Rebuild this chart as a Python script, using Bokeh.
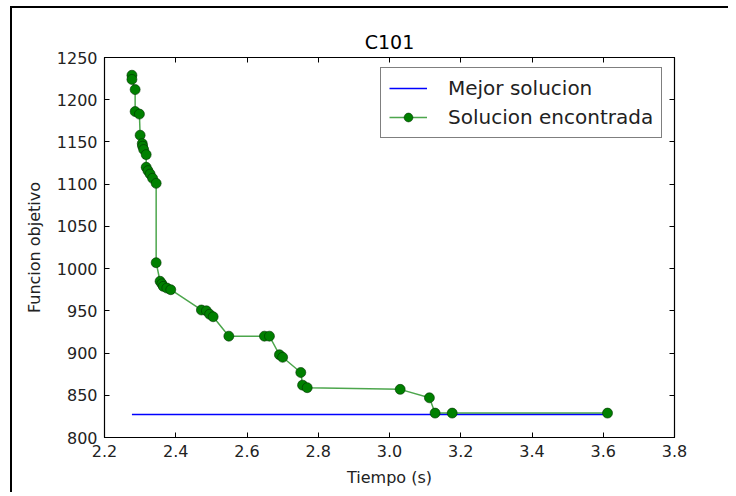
from bokeh.plotting import figure
from bokeh.models import (Range1d, LinearAxis, FixedTicker, CustomJSTickFormatter,
                          Legend, LegendItem, PrintfTickFormatter)
from bokeh.embed import file_html
from bokeh.resources import INLINE

# ---- data ----
tiempo = [2.277, 2.277, 2.286, 2.286, 2.298, 2.300, 2.306, 2.307, 2.310, 2.317,
          2.317, 2.322, 2.328, 2.335, 2.345, 2.345, 2.356, 2.361, 2.365, 2.375,
          2.386, 2.472, 2.486, 2.495, 2.505, 2.549, 2.649, 2.663, 2.691, 2.700,
          2.751, 2.756, 2.769, 3.030, 3.112, 3.128, 3.176, 3.612]
funcion = [1229, 1224, 1212, 1186, 1183, 1158, 1148, 1145, 1141, 1135,
           1120, 1116, 1112, 1107, 1101, 1007, 985, 982, 979, 977,
           975, 951, 950, 946, 943, 920, 920, 920, 898, 895,
           877, 862, 859, 857, 847, 828.9, 828.9, 828.9]
mejor_valor = 827.3
mejor_x = [tiempo[0], tiempo[-1]]
mejor_y = [mejor_valor, mejor_valor]
x_ticks = [2.2, 2.4, 2.6, 2.8, 3.0, 3.2, 3.4, 3.6, 3.8]
y_ticks = [800, 850, 900, 950, 1000, 1050, 1100, 1150, 1200, 1250]

FONT = "DejaVu Sans"

p = figure(width=718, height=486, output_backend="svg", toolbar_location=None,
           x_range=Range1d(2.2, 3.8), y_range=Range1d(800, 1250),
           min_border_left=92, min_border_right=56, min_border_top=49,
           min_border_bottom=57, title="C101")
p.margin = (6, 0, 0, 10)
p.styles = {"border-left": "2px solid black", "border-top": "2px solid black"}

p.title.align = "center"
p.title.text_font = FONT
p.title.text_font_size = "19px"
p.title.text_font_style = "normal"
p.title.text_color = "black"
p.title.standoff = 10

p.xgrid.visible = False
p.ygrid.visible = False
p.outline_line_color = "black"
p.outline_line_width = 1.2

for ax in p.xaxis + p.yaxis:
    ax.major_tick_in = 5
    ax.major_tick_out = 0
    ax.minor_tick_line_color = None
    ax.major_label_text_font = FONT
    ax.major_label_text_font_size = "16px"
    ax.major_label_text_color = "#222222"
    ax.axis_label_text_font = FONT
    ax.axis_label_text_font_size = "16px"
    ax.axis_label_text_font_style = "normal"
    ax.axis_label_text_color = "#222222"
    ax.axis_line_color = "black"
    ax.major_label_standoff = 7

p.xaxis.ticker = FixedTicker(ticks=x_ticks)
p.xaxis.formatter = PrintfTickFormatter(format="%.1f")
p.yaxis.ticker = FixedTicker(ticks=y_ticks)
p.xaxis.axis_label = "Tiempo (s)"
p.yaxis.axis_label = "Funcion objetivo"
p.xaxis.axis_label_standoff = 8
p.yaxis.axis_label_standoff = 10

blank = CustomJSTickFormatter(code="return ''")
top = LinearAxis(ticker=FixedTicker(ticks=x_ticks), formatter=blank,
                 major_tick_in=5, major_tick_out=0, minor_tick_line_color=None,
                 major_label_standoff=0, major_label_text_font_size="1px")
right = LinearAxis(ticker=FixedTicker(ticks=y_ticks), formatter=blank,
                   major_tick_in=5, major_tick_out=0, minor_tick_line_color=None,
                   major_label_standoff=0, major_label_text_font_size="1px")
p.add_layout(top, "above")
p.add_layout(right, "right")

r_best = p.line(mejor_x, mejor_y, line_color="#0000ff", line_width=1.5)
r_line = p.line(tiempo, funcion, line_color="#008000", line_width=1.5, line_alpha=0.7)
r_pts = p.scatter(tiempo, funcion, size=10, fill_color="#008000",
                  line_color="#003300", line_width=0.6)

legend = Legend(items=[LegendItem(label="Mejor solucion", renderers=[r_best]),
                       LegendItem(label="Solucion encontrada", renderers=[r_line, r_pts])],
                location=(276, 299))
legend.label_text_font = FONT
legend.label_text_font_size = "20px"
legend.label_text_color = "#222222"
legend.glyph_width = 38
legend.glyph_height = 22
legend.label_height = 22
legend.label_standoff = 21
legend.padding = 8
legend.spacing = 5
legend.margin = 0
legend.border_line_color = "black"
legend.border_line_width = 1.2
legend.background_fill_alpha = 1.0
p.add_layout(legend, "center")

open("out.html", "w").write(file_html(p, INLINE))
